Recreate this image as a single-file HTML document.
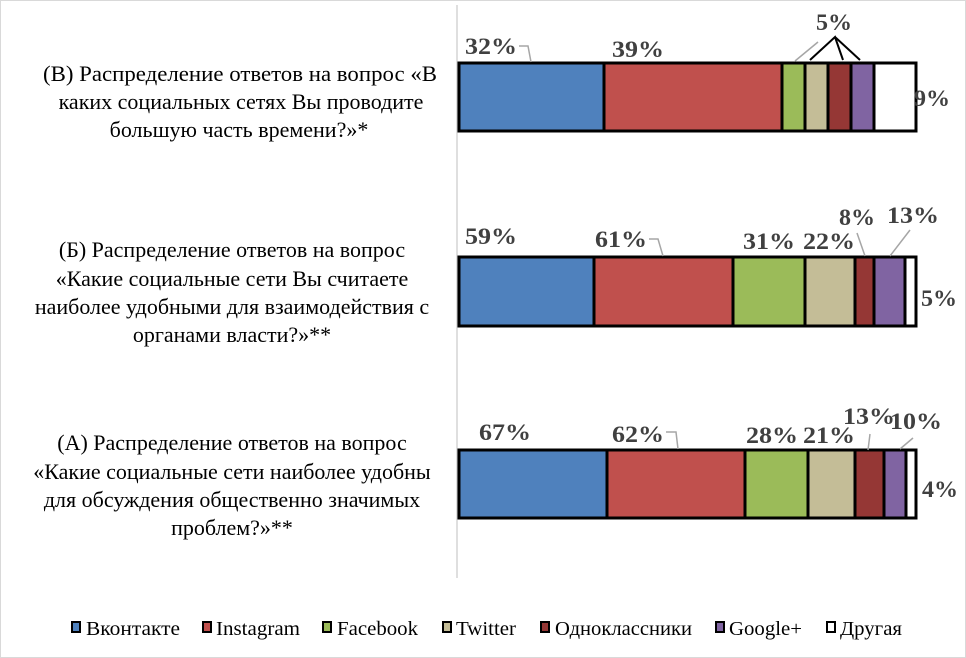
<!DOCTYPE html>
<html><head><meta charset="utf-8"><style>
body{margin:0;background:#fff}
svg{display:block}
.q{font-family:"Liberation Serif",serif;font-size:22px;fill:#000;text-anchor:middle}
.l{font-family:"Liberation Serif",serif;font-size:23px;font-weight:bold;fill:#404040}
.g{font-family:"Liberation Serif",serif;font-size:20px;fill:#000}
</style></head><body>
<svg width="966" height="658" xmlns="http://www.w3.org/2000/svg">
<rect x="0.5" y="0.5" width="965" height="657" fill="#fff" stroke="#d9d9d9"/>
<line x1="457" y1="5" x2="457" y2="578" stroke="#bfbfbf" stroke-width="1"/>
<g class="q">
<text x="240" y="81" textLength="394" lengthAdjust="spacingAndGlyphs">(В) Распределение ответов на вопрос «В</text>
<text x="241" y="109">каких социальных сетях Вы проводите</text>
<text x="239" y="137">большую часть времени?»*</text>
<text x="232" y="257">(Б) Распределение ответов на вопрос</text>
<text x="232" y="286">«Какие социальные сети Вы считаете</text>
<text x="232" y="314">наиболее удобными для взаимодействия с</text>
<text x="232" y="342">органами власти?»**</text>
<text x="232" y="450">(А) Распределение ответов на вопрос</text>
<text x="232" y="479">«Какие социальные сети наиболее удобны</text>
<text x="232" y="507">для обсуждения общественно значимых</text>
<text x="232" y="535">проблем?»**</text>
</g>
<g stroke="#000" stroke-width="3">
<rect x="459" y="63" width="145" height="68" fill="#4f81bd"/>
<rect x="604" y="63" width="178" height="68" fill="#c0504d"/>
<rect x="782" y="63" width="23" height="68" fill="#9bbb59"/>
<rect x="805" y="63" width="23" height="68" fill="#c4bd97"/>
<rect x="828" y="63" width="23" height="68" fill="#953735"/>
<rect x="851" y="63" width="23" height="68" fill="#8064a2"/>
<rect x="874" y="63" width="42" height="68" fill="#fff"/>

<rect x="459" y="257" width="135" height="69" fill="#4f81bd"/>
<rect x="594" y="257" width="139" height="69" fill="#c0504d"/>
<rect x="733" y="257" width="72" height="69" fill="#9bbb59"/>
<rect x="805" y="257" width="50" height="69" fill="#c4bd97"/>
<rect x="855" y="257" width="19" height="69" fill="#953735"/>
<rect x="874" y="257" width="31" height="69" fill="#8064a2"/>
<rect x="905" y="257" width="11" height="69" fill="#fff"/>

<rect x="459" y="450" width="148" height="68" fill="#4f81bd"/>
<rect x="607" y="450" width="138" height="68" fill="#c0504d"/>
<rect x="745" y="450" width="63" height="68" fill="#9bbb59"/>
<rect x="808" y="450" width="47" height="68" fill="#c4bd97"/>
<rect x="855" y="450" width="29" height="68" fill="#953735"/>
<rect x="884" y="450" width="22" height="68" fill="#8064a2"/>
<rect x="906" y="450" width="10" height="68" fill="#fff"/>
</g>
<g fill="none" stroke="#a6a6a6" stroke-width="1.5">
<polyline points="519,46 528,46 531,62"/>
<polyline points="649,239 658,239 663,256"/>
<polyline points="666,432 676,432 678,449"/>
<polyline points="857,233 865,256"/>
<polyline points="910,230 890,256"/>
<polyline points="868,450 870,434"/>
<polyline points="913,438 900,449"/>
<polyline points="795,61 818,42"/>
</g>
<g fill="none" stroke="#000" stroke-width="2">
<polyline points="810,60 835,37 843,60"/>
<polyline points="835,37 860,60"/>
</g>
<g class="l">
<text x="465" y="54" textLength="52" lengthAdjust="spacingAndGlyphs">32%</text>
<text x="612" y="57" textLength="52" lengthAdjust="spacingAndGlyphs">39%</text>
<text x="816" y="30" textLength="36" lengthAdjust="spacingAndGlyphs">5%</text>
<text x="914" y="106" textLength="36" lengthAdjust="spacingAndGlyphs">9%</text>
<text x="465" y="244" textLength="52" lengthAdjust="spacingAndGlyphs">59%</text>
<text x="595" y="247" textLength="52" lengthAdjust="spacingAndGlyphs">61%</text>
<text x="743" y="249" textLength="52" lengthAdjust="spacingAndGlyphs">31%</text>
<text x="803" y="249" textLength="52" lengthAdjust="spacingAndGlyphs">22%</text>
<text x="839" y="225" textLength="36" lengthAdjust="spacingAndGlyphs">8%</text>
<text x="887" y="223" textLength="52" lengthAdjust="spacingAndGlyphs">13%</text>
<text x="921" y="306" textLength="36" lengthAdjust="spacingAndGlyphs">5%</text>
<text x="479" y="440" textLength="52" lengthAdjust="spacingAndGlyphs">67%</text>
<text x="612" y="442" textLength="52" lengthAdjust="spacingAndGlyphs">62%</text>
<text x="746" y="443" textLength="52" lengthAdjust="spacingAndGlyphs">28%</text>
<text x="803" y="443" textLength="52" lengthAdjust="spacingAndGlyphs">21%</text>
<text x="843" y="424" textLength="52" lengthAdjust="spacingAndGlyphs">13%</text>
<text x="890" y="429" textLength="52" lengthAdjust="spacingAndGlyphs">10%</text>
<text x="922" y="497" textLength="36" lengthAdjust="spacingAndGlyphs">4%</text>
</g>
<g stroke="#000" stroke-width="2">
<rect x="72" y="622" width="8" height="10" fill="#4f81bd"/>
<rect x="203" y="622" width="8" height="10" fill="#c0504d"/>
<rect x="323" y="622" width="8" height="10" fill="#9bbb59"/>
<rect x="443" y="622" width="8" height="10" fill="#c4bd97"/>
<rect x="541" y="622" width="8" height="10" fill="#953735"/>
<rect x="716" y="622" width="8" height="10" fill="#8064a2"/>
<rect x="827" y="622" width="8" height="10" fill="#fff"/>
</g>
<g class="g">
<text x="86" y="635" textLength="94" lengthAdjust="spacingAndGlyphs">Вконтакте</text>
<text x="216" y="635" textLength="84" lengthAdjust="spacingAndGlyphs">Instagram</text>
<text x="337" y="635" textLength="81" lengthAdjust="spacingAndGlyphs">Facebook</text>
<text x="456" y="635" textLength="60" lengthAdjust="spacingAndGlyphs">Twitter</text>
<text x="555" y="635" textLength="137" lengthAdjust="spacingAndGlyphs">Одноклассники</text>
<text x="729" y="635" textLength="73" lengthAdjust="spacingAndGlyphs">Google+</text>
<text x="840" y="635" textLength="62" lengthAdjust="spacingAndGlyphs">Другая</text>
</g>
</svg>
</body></html>
